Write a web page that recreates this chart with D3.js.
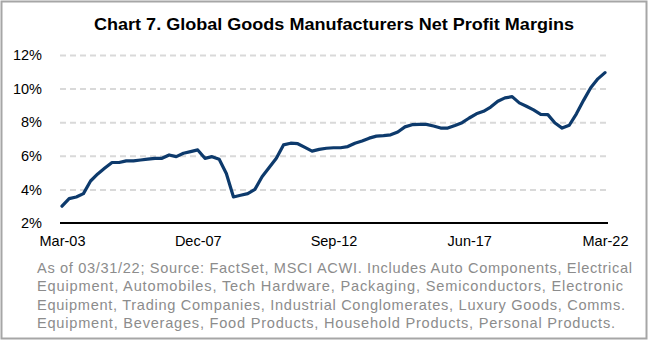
<!DOCTYPE html>
<html>
<head>
<meta charset="utf-8">
<script src="https://cdn.jsdelivr.net/npm/d3@7"></script>
<style>
  html, body { margin: 0; padding: 0; background: #fff; }
  svg { display: block; }
  text { font-family: "Liberation Sans", Arial, sans-serif; }
</style>
</head>
<body>
<svg id="chart" width="648" height="340"></svg>
<script>
// Quarterly net profit margin (%), Mar-03 .. Mar-22
const quarters = d3.range(77);
const margins = [
  3.00, 3.45, 3.55, 3.75, 4.50, 4.92, 5.27, 5.60, 5.60, 5.70,
  5.70, 5.75, 5.80, 5.85, 5.85, 6.05, 5.95, 6.15, 6.25, 6.35,
  5.85, 5.95, 5.80, 4.95, 3.55, 3.65, 3.75, 4.00, 4.75, 5.30,
  5.85, 6.65, 6.75, 6.72, 6.50, 6.28, 6.38, 6.45, 6.48, 6.48,
  6.55, 6.75, 6.88, 7.05, 7.17, 7.20, 7.25, 7.42, 7.72, 7.85,
  7.87, 7.87, 7.77, 7.65, 7.65, 7.80, 7.97, 8.25, 8.50, 8.65,
  8.90, 9.25, 9.45, 9.52, 9.15, 8.95, 8.73, 8.47, 8.45, 7.95,
  7.65, 7.82, 8.50, 9.30, 10.05, 10.58, 10.95
];
const xTickIndex = [0, 19, 38, 57, 76];
const xTickLabels = ["Mar-03", "Dec-07", "Sep-12", "Jun-17", "Mar-22"];
const yTicks = [2, 4, 6, 8, 10, 12];

const title = "Chart 7. Global Goods Manufacturers Net Profit Margins";
const noteLines = [
  "As of 03/31/22; Source: FactSet, MSCI ACWI. Includes Auto Components, Electrical",
  "Equipment, Automobiles, Tech Hardware, Packaging, Semiconductors, Electronic",
  "Equipment, Trading Companies, Industrial Conglomerates, Luxury Goods, Comms.",
  "Equipment, Beverages, Food Products, Household Products, Personal Products."
];
const noteWidths = [595, 586, 588, 578];

const svg = d3.select("#chart");
const W = 648, H = 340;

// outer frame
svg.append("rect")
  .attr("x", 1.5).attr("y", 1.5)
  .attr("width", W - 3).attr("height", H - 3)
  .attr("fill", "#fff").attr("stroke", "#a6a6a6").attr("stroke-width", 2);

const plot = { left: 60, right: 608, top: 55, bottom: 223 };

const x = d3.scaleLinear().domain([0, 76]).range([62, 605]);
const y = d3.scaleLinear().domain([2, 12]).range([plot.bottom, plot.top]);

// title
svg.append("text")
  .attr("x", 334).attr("y", 30)
  .attr("text-anchor", "middle")
  .attr("font-size", 16.5).attr("font-weight", "bold")
  .attr("fill", "#000")
  .attr("textLength", 480).attr("lengthAdjust", "spacingAndGlyphs")
  .text(title);

// horizontal dashed gridlines
const yAxis = d3.axisLeft(y)
  .tickValues(yTicks)
  .tickFormat(d => d + "%")
  .tickSize(-(plot.right - plot.left))
  .tickPadding(18);

const gy = svg.append("g")
  .attr("transform", `translate(${plot.left},0)`)
  .call(yAxis);
gy.select(".domain").remove();
gy.selectAll(".tick line")
  .attr("stroke", "#d9d9d9").attr("stroke-width", 2)
  .attr("stroke-dasharray", "6,4");
gy.selectAll(".tick").filter(d => d === 2).select("line").remove();
gy.selectAll(".tick text")
  .attr("font-size", 14.5).attr("fill", "#000")
  .attr("font-family", "Liberation Sans, Arial, sans-serif");

// x axis baseline and labels
const xAxis = d3.axisBottom(x)
  .tickValues(xTickIndex)
  .tickFormat((d, i) => xTickLabels[i])
  .tickSize(0)
  .tickPadding(13);
const gx = svg.append("g")
  .attr("transform", `translate(0,${plot.bottom})`)
  .call(xAxis);
gx.select(".domain")
  .attr("d", `M${plot.left},0H${plot.right}`)
  .attr("stroke", "#000").attr("stroke-width", 2);
gx.selectAll(".tick text")
  .attr("font-size", 14.5).attr("fill", "#000")
  .attr("font-family", "Liberation Sans, Arial, sans-serif");

// margin line
const line = d3.line()
  .x(d => x(d))
  .y(d => y(margins[d]));
svg.append("path")
  .datum(quarters)
  .attr("d", line)
  .attr("fill", "none")
  .attr("stroke", "#0d3a6c")
  .attr("stroke-width", 3.2)
  .attr("stroke-linejoin", "round")
  .attr("stroke-linecap", "round");

// source note
svg.append("g").selectAll("text")
  .data(noteLines)
  .join("text")
  .attr("x", 37)
  .attr("y", (d, i) => 272.5 + i * 18.6)
  .attr("font-size", 14.6)
  .attr("fill", "#8c8c8c")
  .attr("textLength", (d, i) => noteWidths[i])
  .attr("lengthAdjust", "spacing")
  .text(d => d);
</script>
</body>
</html>
